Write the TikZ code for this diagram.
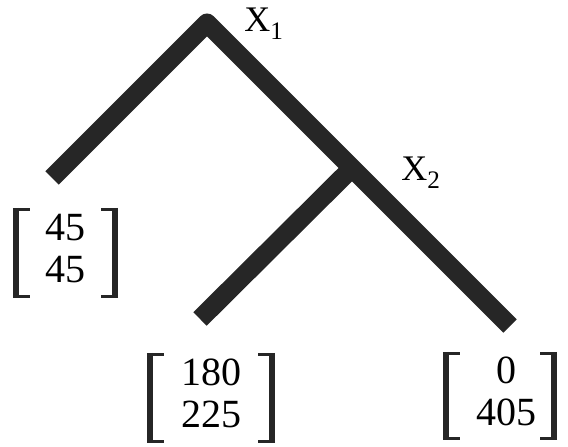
\documentclass[tikz,border=0pt]{standalone}
\usepackage{fontspec}
\setmainfont{Liberation Serif}
\usepackage{tikz}

\begin{document}
\begin{tikzpicture}[x=1pt, y=1pt,
    branch/.style={line width=19pt, line cap=butt, line join=round, black!85},
    leaf/.style={inner sep=0pt, minimum height=90pt, font=\fontsize{40}{42}\selectfont},
    bar/.style={line width=6pt, black!85},
    tick/.style={line width=3pt, black!85},
    varname/.style={inner sep=0pt, font=\fontsize{36}{40}\selectfont}]
    \useasboundingbox (0,0) rectangle (568,447);
    % tree
    \coordinate (x1) at (207,424);
    \coordinate (x2) at (352,279);
    \coordinate (endl) at (52,269);
    \coordinate (endm) at (200,128);
    \coordinate (endr) at (510,121);
    \draw[branch] (endl) -- (x1) -- (endr);
    \draw[branch] (x2) -- (endm);
    % labels
    \node[varname] (lx1) at (264,423) {X\textsubscript{1}};
    \node[varname] (lx2) at (421,274) {X\textsubscript{2}};
    \node[leaf, minimum width=105pt] (v1) at (65.5,194) {\begin{tabular}{c}45\\45\end{tabular}};
    \node[leaf, minimum width=128pt] (v2) at (211,49) {\begin{tabular}{c}180\\225\end{tabular}};
    \node[leaf, minimum width=114pt, minimum height=88pt] (v3) at (500,51) {\begin{tabular}{c}\hspace{12pt}0\\\hspace{12pt}405\end{tabular}};
    % brackets
    \foreach \n in {v1,v2,v3} {
        \draw[bar] ([xshift=3pt]\n.north west) -- ([xshift=3pt]\n.south west);
        \draw[tick] ([yshift=-1.5pt]\n.north west) -- ++(17pt,0);
        \draw[tick] ([yshift=1.5pt]\n.south west) -- ++(17pt,0);
        \draw[bar] ([xshift=-3pt]\n.north east) -- ([xshift=-3pt]\n.south east);
        \draw[tick] ([yshift=-1.5pt]\n.north east) -- ++(-17pt,0);
        \draw[tick] ([yshift=1.5pt]\n.south east) -- ++(-17pt,0);
    }
\end{tikzpicture}
\end{document}
